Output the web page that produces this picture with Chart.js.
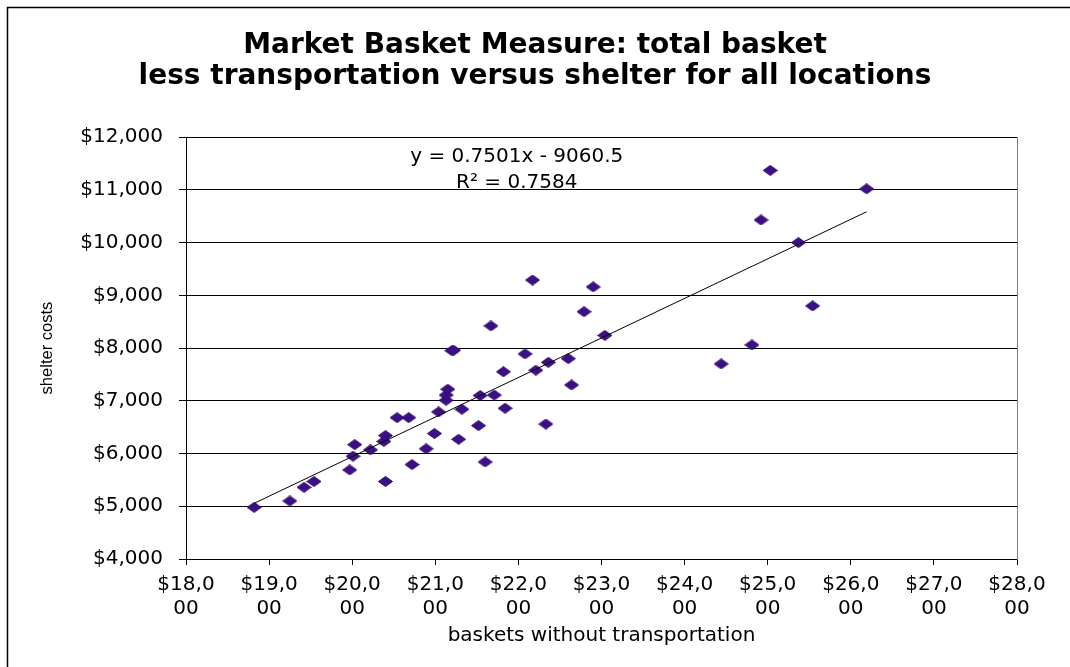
<!DOCTYPE html>
<html>
<head>
<meta charset="utf-8">
<script src="https://cdn.jsdelivr.net/npm/chart.js@4.4.0/dist/chart.umd.min.js"></script>
<style>
  html, body { margin: 0; padding: 0; background: #fff; }
  #wrap { width: 1070px; height: 667px; }
</style>
</head>
<body>
<div id="wrap"><canvas id="chart" width="1070" height="667"></canvas></div>
<script>
// chart data
const titleLines = ['Market Basket Measure: total basket', 'less transportation versus shelter for all locations'];
const xAxisTitle = 'baskets without transportation';
const yAxisTitle = 'shelter costs';

const basketCosts = [18820, 19250, 19420, 19540, 19970, 20010, 20030, 20220, 20380, 20400,
  20400, 20540, 20680, 20720, 20890, 20990, 21040, 21130, 21130, 21150,
  21200, 21220, 21280, 21320, 21520, 21540, 21600, 21670, 21710, 21820,
  21840, 22080, 22170, 22210, 22330, 22360, 22600, 22640, 22790, 22900,
  23040, 24440, 24810, 24920, 25030, 25370, 25540, 26190];
const shelterCosts = [4980, 5100, 5360, 5470, 5690, 5950, 6170, 6070, 6230, 6340,
  5470, 6680, 6680, 5790, 6090, 6380, 6790, 7010, 7110, 7220,
  7950, 7960, 6270, 6840, 6530, 7100, 5840, 8420, 7110, 7550,
  6860, 7890, 9290, 7580, 6560, 7730, 7800, 7300, 8690, 9160,
  8240, 7700, 8060, 10430, 11370, 10000, 8800, 11020];

const xRange = [18000, 28000];
const yRange = [4000, 12000];
const tickStep = 1000;

// trendline as printed on the chart
const trendSlope = 0.7501;
const trendIntercept = -9060.5;
const rSquared = 0.7584;
const eqLabelAt = [21980, 11630];

const points = basketCosts.map((v, i) => ({ x: v, y: shelterCosts[i] }));
const xMin = Math.min(...basketCosts);
const xMax = Math.max(...basketCosts);
const trendPoints = [
  { x: xMin, y: trendSlope * xMin + trendIntercept },
  { x: xMax, y: trendSlope * xMax + trendIntercept }
];

function makeDiamond(w, h, fill, stroke) {
  const c = document.createElement('canvas');
  c.width = w; c.height = h;
  const g = c.getContext('2d');
  g.beginPath();
  g.moveTo(w / 2, 0.5);
  g.lineTo(w - 0.5, h / 2);
  g.lineTo(w / 2, h - 0.5);
  g.lineTo(0.5, h / 2);
  g.closePath();
  g.fillStyle = fill;
  g.fill();
  g.strokeStyle = stroke;
  g.lineWidth = 1;
  g.stroke();
  return c;
}

const money = v => '$' + Number(v).toLocaleString('en-US');
const baseFont = '"DejaVu Sans"';

const framePlugin = {
  id: 'frame',
  beforeDraw(chart) {
    const ctx = chart.ctx;
    ctx.save();
    ctx.fillStyle = '#fff';
    ctx.fillRect(0, 0, chart.width, chart.height);
    ctx.strokeStyle = '#000';
    ctx.lineWidth = 1.5;
    ctx.strokeRect(7.5, 7.5, chart.width + 40, chart.height + 40);
    ctx.restore();
  },
  afterDatasetsDraw(chart) {
    const { ctx, scales: { x, y } } = chart;
    const px = x.getPixelForValue(eqLabelAt[0]);
    const py = y.getPixelForValue(eqLabelAt[1]);
    ctx.save();
    ctx.font = '20px ' + baseFont;
    ctx.fillStyle = '#000';
    ctx.textAlign = 'center';
    ctx.textBaseline = 'middle';
    ctx.fillText('y = ' + trendSlope + 'x - ' + Math.abs(trendIntercept), px, py);
    ctx.fillText('R\u00B2 = ' + rSquared, px, py + 26);
    ctx.restore();
  }
};

Chart.defaults.color = '#000';

new Chart(document.getElementById('chart'), {
  type: 'scatter',
  data: {
    datasets: [
      {
        type: 'line',
        data: trendPoints,
        borderColor: '#000',
        borderWidth: 1,
        pointRadius: 0,
        fill: false,
        order: 1
      },
      {
        type: 'scatter',
        data: points,
        pointStyle: makeDiamond(15, 11, '#3d0f86', '#300a6e'),
        pointRadius: 7,
        pointHoverRadius: 7,
        order: 2
      }
    ]
  },
  options: {
    responsive: false,
    animation: false,
    events: [],
    layout: { padding: 0 },
    plugins: {
      legend: { display: false },
      tooltip: { enabled: false },
      title: {
        display: true,
        text: titleLines,
        color: '#000',
        font: { family: baseFont, size: 28, weight: 'bold', lineHeight: 1.11 },
        padding: { top: 30, bottom: 45 }
      }
    },
    scales: {
      x: {
        type: 'linear',
        min: xRange[0],
        max: xRange[1],
        ticks: {
          stepSize: tickStep,
          autoSkip: false,
          maxRotation: 0,
          padding: 8,
          font: { family: baseFont, size: 20, lineHeight: 1.2 },
          callback: v => {
            const s = money(v);
            return [s.slice(0, 5), s.slice(5)];
          }
        },
        grid: { drawOnChartArea: false, drawTicks: true, tickLength: 6, color: '#000' },
        border: { color: '#000', width: 1 },
        title: {
          display: true,
          text: xAxisTitle,
          font: { family: baseFont, size: 20 },
          padding: { top: 4, bottom: 19 }
        },
        afterFit: s => { s.height = 108; }
      },
      y: {
        min: yRange[0],
        max: yRange[1],
        ticks: {
          stepSize: tickStep,
          padding: 16,
          font: { family: baseFont, size: 20 },
          callback: v => money(v)
        },
        grid: { color: '#000', tickLength: 7 },
        border: { color: '#000', width: 1 },
        title: {
          display: true,
          text: yAxisTitle,
          font: { family: '"Liberation Sans"', size: 16.5 },
          padding: { top: 38, bottom: 0 }
        },
        afterFit: s => { s.width = 186; }
      },
      yRight: {
        position: 'right',
        min: yRange[0],
        max: yRange[1],
        ticks: { display: false },
        grid: { display: false },
        border: { display: true, color: '#808080', width: 1 },
        afterFit: s => { s.width = 53; }
      }
    }
  },
  plugins: [framePlugin]
});
</script>
</body>
</html>
